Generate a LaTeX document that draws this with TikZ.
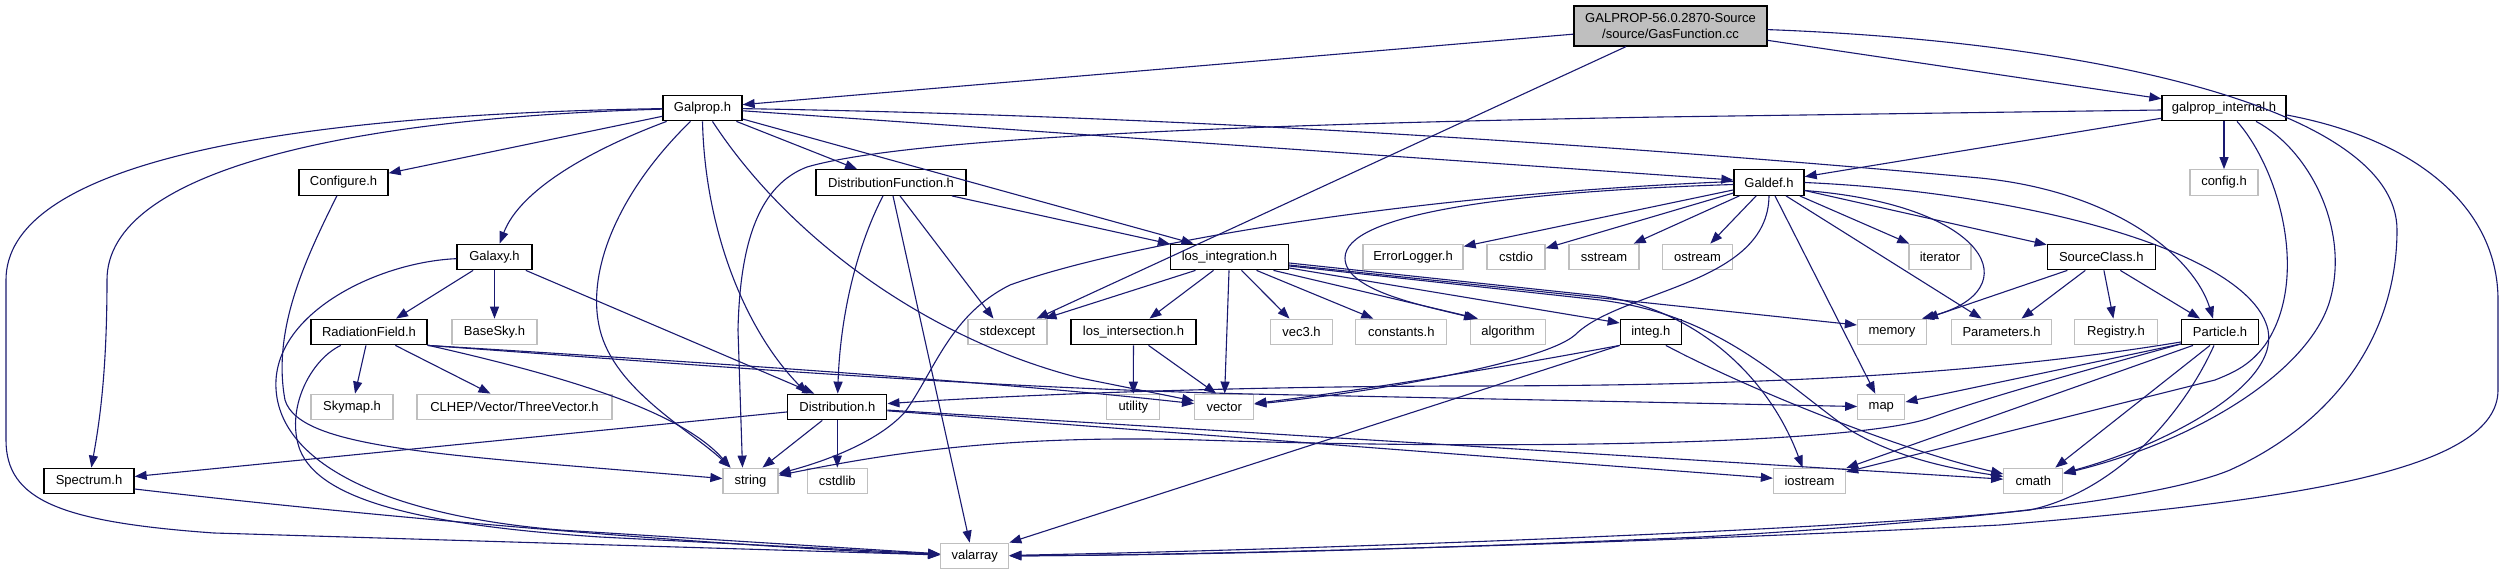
\documentclass[tikz,border=0pt]{standalone}
\usepackage{fontspec}
\setmainfont{Liberation Sans}
\usetikzlibrary{arrows.meta}
\definecolor{edgec}{HTML}{191970}
\definecolor{leafc}{HTML}{BFBFBF}
\begin{document}
\begin{tikzpicture}[x=1pt,y=-1pt,
  box/.style={draw=black, fill=white, line width=1.3pt, minimum height=25.5pt, inner sep=0pt,
              font=\fontsize{13}{15.5}\selectfont},
  leaf/.style={box, draw=leafc},
  rootbox/.style={box, fill=leafc, minimum height=40pt, align=center},
  dep/.style={draw=edgec, line width=1.1pt, -{Triangle[length=12pt,width=9pt]}}]
\useasboundingbox[fill=white] (0,0) rectangle (2504,575);

% ---- nodes ----
\node[rootbox, minimum width=193pt] (root) at (1670.5,26) {GALPROP-56.0.2870-Source\\/source/GasFunction.cc};
\node[box, minimum width=79pt] (galprop) at (702.5,108) {Galprop.h};
\node[box, minimum width=124pt] (gint) at (2224,108) {galprop\_internal.h};
\node[box, minimum width=89pt] (configure) at (343.5,182.5) {Configure.h};
\node[box, minimum width=150pt] (distfunc) at (891,182.5) {DistributionFunction.h};
\node[box, minimum width=70pt] (galdef) at (1769,182.5) {Galdef.h};
\node[leaf, minimum width=68pt] (config) at (2224,182.5) {config.h};
\node[box, minimum width=75pt] (galaxy) at (494.5,257) {Galaxy.h};
\node[box, minimum width=118pt] (losint) at (1229.5,257) {los\_integration.h};
\node[leaf, minimum width=100pt] (errlog) at (1413,257) {ErrorLogger.h};
\node[leaf, minimum width=58pt] (cstdio) at (1516,257) {cstdio};
\node[leaf, minimum width=70pt] (sstream) at (1604,257) {sstream};
\node[leaf, minimum width=70pt] (ostream) at (1697.5,257) {ostream};
\node[leaf, minimum width=62pt] (iterator) at (1940,257) {iterator};
\node[box, minimum width=108pt] (source) at (2101.3,257) {SourceClass.h};
\node[box, minimum width=116pt] (radfield) at (369,332) {RadiationField.h};
\node[leaf, minimum width=85pt] (basesky) at (494.5,332) {BaseSky.h};
\node[leaf, minimum width=79pt] (stdexcept) at (1007.5,332) {stdexcept};
\node[box, minimum width=125pt] (losinter) at (1133.5,332) {los\_intersection.h};
\node[leaf, minimum width=62pt] (vec3) at (1301.5,332) {vec3.h};
\node[leaf, minimum width=91pt] (constants) at (1401.3,332) {constants.h};
\node[leaf, minimum width=75pt] (algorithm) at (1508,332) {algorithm};
\node[box, minimum width=61pt] (integ) at (1650.8,332) {integ.h};
\node[leaf, minimum width=69pt] (memory) at (1892,332) {memory};
\node[leaf, minimum width=100pt] (params) at (2001.5,332) {Parameters.h};
\node[leaf, minimum width=83pt] (registry) at (2116,332) {Registry.h};
\node[box, minimum width=77pt] (particle) at (2220,332) {Particle.h};
\node[leaf, minimum width=82pt] (skymap) at (352,407) {Skymap.h};
\node[leaf, minimum width=195pt] (threevec) at (514.5,407) {CLHEP/Vector/ThreeVector.h};
\node[box, minimum width=99pt] (distribution) at (837.3,407) {Distribution.h};
\node[leaf, minimum width=53pt] (utility) at (1133.3,407) {utility};
\node[leaf, minimum width=59pt] (vector) at (1224.2,407) {vector};
\node[leaf, minimum width=47pt] (map) at (1881.3,407) {map};
\node[box, minimum width=90pt] (spectrum) at (89,481) {Spectrum.h};
\node[leaf, minimum width=55pt] (string) at (750.5,481) {string};
\node[leaf, minimum width=60pt] (cstdlib) at (837.3,481) {cstdlib};
\node[leaf, minimum width=72pt] (iostream) at (1809.5,481) {iostream};
\node[leaf, minimum width=59pt] (cmath) at (2033.3,481) {cmath};
\node[leaf, minimum width=68pt] (valarray) at (974.7,556) {valarray};

% ---- root ----
\draw[dep] (root) -- (galprop);
\draw[dep] (root) -- (stdexcept);
\draw[dep] (root) -- (gint);
\draw[dep] (root) .. controls (2100,42) and (2397,110) .. (2397,230) .. controls (2397,330) and (2340,420) .. (2230,470) .. controls (2170,495) and (2000,520) .. (1700,537) .. controls (1400,550) and (1200,555) .. (valarray);

% ---- Galprop.h ----
\draw[dep] (galprop) .. controls (250,115) and (6,170) .. (6,280) -- (6,440) .. controls (6,500) and (60,522) .. (214,533) -- (valarray);
\draw[dep] (galprop) .. controls (350,118) and (107,170) .. (107,280) .. controls (107,380) and (98,430) .. (spectrum);
\draw[dep] (galprop) -- (configure);
\draw[dep] (galprop) .. controls (590,150) and (520,190) .. (galaxy);
\draw[dep] ([xshift=-12pt]galprop.south) .. controls (620,190) and (585,270) .. (600,330) .. controls (615,390) and (690,430) .. ([xshift=-20pt]string.north);
\draw[dep] (galprop.south) .. controls (705,230) and (745,330) .. ([xshift=-30pt]distribution.north);
\draw[dep] ([xshift=10pt]galprop.south) .. controls (790,240) and (930,340) .. (1080,378) -- (vector);
\draw[dep] (galprop) -- (distfunc);
\draw[dep] (galprop) -- ([xshift=-36pt]losint.north);
\draw[dep] (galprop) -- (galdef);
\draw[dep] (galprop) .. controls (1200,116) and (1650,148) .. (1980,178) .. controls (2120,192) and (2195,260) .. ([xshift=-7pt]particle.north);

% ---- Configure.h ----
\draw[dep] (configure) .. controls (305,260) and (272,330) .. (285,400) .. controls (300,450) and (450,455) .. (string);

% ---- Galaxy.h ----
\draw[dep] (galaxy) .. controls (380,262) and (280,310) .. (276,380) .. controls (272,460) and (380,515) .. (560,530) -- (valarray);
\draw[dep] (galaxy) -- ([xshift=27pt]radfield.north);
\draw[dep] (galaxy) -- (basesky);
\draw[dep] (galaxy) -- ([xshift=-23pt]distribution.north);

% ---- RadiationField.h ----
\draw[dep] (radfield) -- (skymap);
\draw[dep] (radfield) -- ([xshift=-24pt]threevec.north);
\draw[dep] (radfield) .. controls (560,375) and (680,410) .. ([xshift=-20pt]string.north);
\draw[dep] (radfield.south east) .. controls (700,362) and (1000,382) .. (vector);
\draw[dep] (radfield.south east) .. controls (700,365) and (1000,390) .. (1300,395) -- (map);
\draw[dep] (radfield) .. controls (310,360) and (285,410) .. (300,450) .. controls (320,500) and (420,525) .. (600,537) -- (valarray);

% ---- Spectrum.h ----
\draw[dep] ([yshift=-8pt]spectrum.east) .. controls (400,520) and (750,548) .. (valarray);

% ---- Distribution.h ----
\draw[dep] (distribution) -- (spectrum);
\draw[dep] ([xshift=-15pt]distribution.south) -- ([xshift=12pt]string.north);
\draw[dep] (distribution) -- (cstdlib);
\draw[dep] (distribution) -- (iostream);
\draw[dep] (distribution) -- (cmath);

% ---- DistributionFunction.h ----
\draw[dep] (distfunc) -- (losint);
\draw[dep] ([xshift=9pt]distfunc.south) -- ([xshift=-14pt]stdexcept.north);
\draw[dep] ([xshift=-8pt]distfunc.south) .. controls (855,250) and (840,320) .. (distribution);
\draw[dep] ([xshift=2pt]distfunc.south) -- ([xshift=-5pt]valarray.north);

% ---- los_integration.h ----
\draw[dep] ([xshift=-34pt]losint.south) -- ([xshift=37pt]stdexcept.north);
\draw[dep] ([xshift=-16pt]losint.south) -- ([xshift=16pt]losinter.north);
\draw[dep] (losint) -- (vector);
\draw[dep] ([xshift=12pt]losint.south) -- ([xshift=-12pt]vec3.north);
\draw[dep] ([xshift=27pt]losint.south) -- ([xshift=-28pt]constants.north);
\draw[dep] ([xshift=44pt]losint.south) -- ([xshift=-30pt]algorithm.north);
\draw[dep] ([yshift=-11pt]losint.east) -- ([yshift=9pt]integ.west);
\draw[dep] ([yshift=-8pt]losint.east) -- ([yshift=7pt]memory.west);
\draw[dep] ([yshift=-6pt]losint.east) -- (1600,296) .. controls (1700,310) and (1770,380) .. ([xshift=-7pt]iostream.north);
\draw[dep] ([yshift=-9pt]losint.east) -- (1600,300) .. controls (1720,315) and (1780,380) .. (1850,430) .. controls (1900,460) and (1960,470) .. (cmath);

% ---- los_intersection.h ----
\draw[dep] (losinter) -- (utility);
\draw[dep] ([xshift=15pt]losinter.south) -- ([xshift=-8pt]vector.north);

% ---- integ.h ----
\draw[dep] (integ.south west) .. controls (1500,368) and (1350,392) .. (vector);
\draw[dep] ([xshift=15pt]integ.south) .. controls (1750,390) and (1900,450) .. (cmath);
\draw[dep] (integ.south west) -- (valarray.north east);

% ---- Galdef.h ----
\draw[dep] (galdef) -- (errlog);
\draw[dep] (galdef) -- (cstdio);
\draw[dep] (galdef) -- (sstream);
\draw[dep] (galdef) -- (ostream);
\draw[dep] (galdef) -- (iterator);
\draw[dep] (galdef) -- (source);
\draw[dep] ([xshift=17pt]galdef.south) -- ([xshift=-20pt]params.north);
\draw[dep] ([xshift=6pt]galdef.south) -- ([xshift=-6pt]map.north);
\draw[dep] ([yshift=-8pt]galdef.east) .. controls (1990,205) and (2030,290) .. ([xshift=30pt]memory.north);
\draw[dep] ([yshift=-2pt]galdef.west) .. controls (1500,192) and (1345,215) .. (1345,258) .. controls (1345,290) and (1420,305) .. ([xshift=-32pt]algorithm.north);
\draw[dep] ([yshift=1pt]galdef.west) .. controls (1400,195) and (1120,245) .. (1010,285) .. controls (950,315) and (935,370) .. (905,412) .. controls (880,440) and (830,460) .. (string);
\draw[dep] (galdef.south) .. controls (1768,285) and (1620,290) .. (1575,335) .. controls (1540,365) and (1350,395) .. (vector);
\draw[dep] (galdef.east) .. controls (2020,192) and (2250,250) .. (2268,330) .. controls (2280,390) and (2150,450) .. (cmath);

% ---- galprop_internal.h ----
\draw[dep] (gint) -- (galdef);
\draw[dep] (gint) -- (config);
\draw[dep] ([yshift=-2pt]gint.west) -- (1660,117) .. controls (1200,125) and (900,140) .. (807,167) .. controls (760,185) and (740,240) .. (738,330) -- ([xshift=-8pt]string.north);
\draw[dep] ([xshift=13pt]gint.south) .. controls (2280,170) and (2310,280) .. (2265,345) .. controls (2250,365) and (2235,372) .. (2215,380) -- (iostream);
\draw[dep] ([xshift=32pt]gint.south) .. controls (2310,150) and (2350,230) .. (2330,300) .. controls (2310,370) and (2200,440) .. (cmath);
\draw[dep] ([yshift=-7pt]gint.east) .. controls (2420,140) and (2498,210) .. (2498,300) -- (2498,390) .. controls (2498,470) and (2300,500) .. (2000,525) .. controls (1600,545) and (1200,555) .. (valarray);

% ---- Particle.h ----
\draw[dep] ([yshift=-10pt]particle.west) .. controls (1950,380) and (1700,386) .. (1450,386) .. controls (1200,387) and (1000,396) .. (distribution);
\draw[dep] ([yshift=-12pt]particle.west) -- ([yshift=5pt]map.east);
\draw[dep] ([yshift=-12pt]particle.west) .. controls (2050,380) and (1980,400) .. (1930,418) .. controls (1850,445) and (1500,450) .. (1200,440) .. controls (1000,434) and (880,455) .. (string);
\draw[dep] ([xshift=-27pt]particle.south) -- (iostream);
\draw[dep] ([xshift=-10pt]particle.south) -- ([xshift=22pt]cmath.north);
\draw[dep] ([xshift=-6pt]particle.south) .. controls (2185,410) and (2120,490) .. (2030,510) .. controls (1850,530) and (1300,550) .. (valarray);

% ---- SourceClass.h ----
\draw[dep] ([xshift=-34pt]source.south) -- ([xshift=34pt]memory.north);
\draw[dep] ([xshift=-16pt]source.south) -- ([xshift=20pt]params.north);
\draw[dep] (source) -- (registry);
\draw[dep] ([xshift=19pt]source.south) -- ([xshift=-20pt]particle.north);
\end{tikzpicture}
\end{document}
